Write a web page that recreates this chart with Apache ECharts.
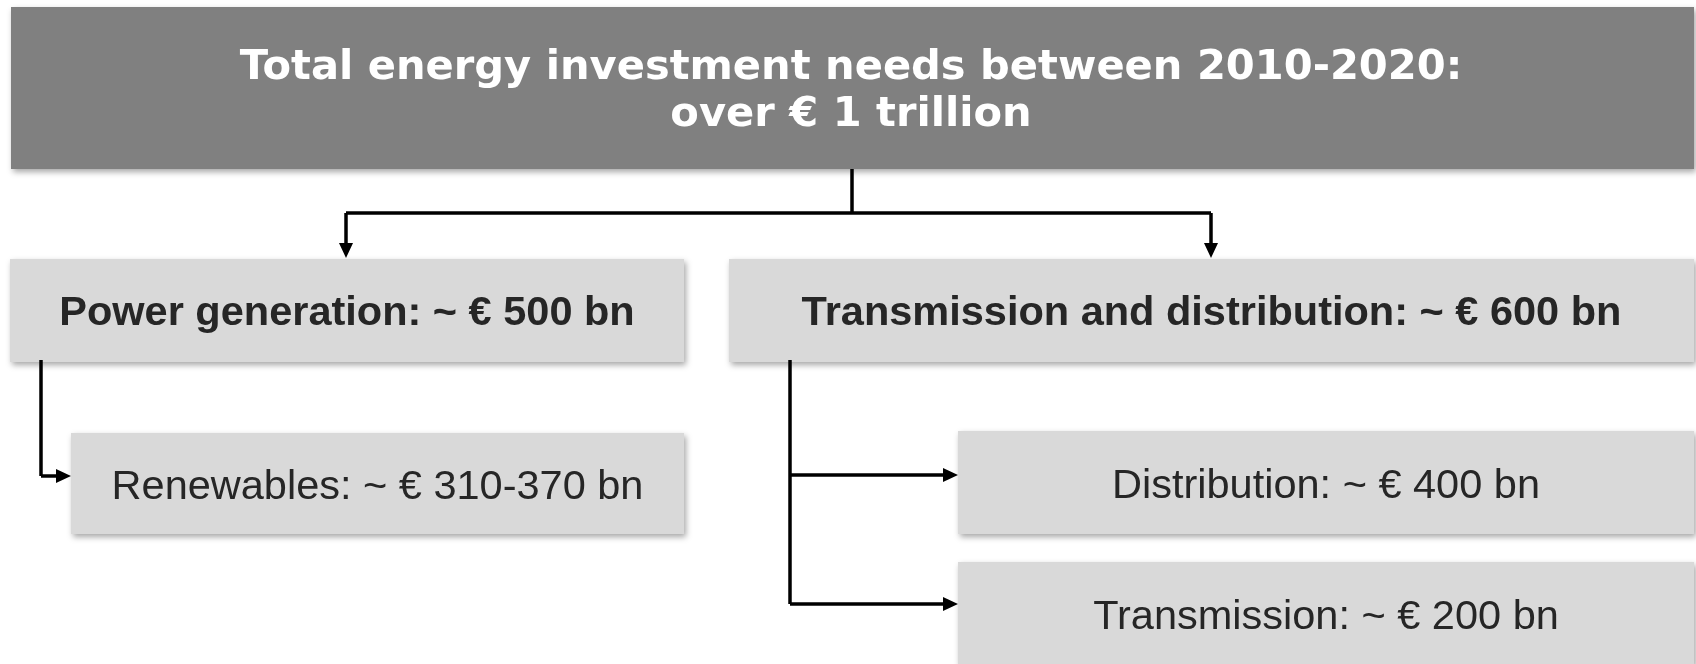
<!DOCTYPE html>
<html>
<head>
<meta charset="utf-8">
<script src="https://cdn.jsdelivr.net/npm/echarts@6/dist/echarts.min.js"></script>
<style>
  html, body { margin: 0; padding: 0; background: #ffffff; }
  #chart { width: 1696px; height: 664px; }
</style>
</head>
<body>
<div id="chart"></div>
<script>
// ---- Diagram content ----
const rootLines = ['Total energy investment needs between 2010-2020:', 'over € 1 trillion'];
const level1Labels = ['Power generation: ~ € 500 bn', 'Transmission and distribution: ~ € 600 bn'];
const level2Labels = ['Renewables: ~ € 310-370 bn', 'Distribution: ~ € 400 bn', 'Transmission: ~ € 200 bn'];
const level2Parents = [0, 1, 1];

// ---- Layout (positions / styles) ----
const rootBox = { x: 11, y: 7, w: 1683, h: 162 };
const level1Boxes = [
  { x: 10, y: 259, w: 674, h: 103 },
  { x: 729, y: 259, w: 965, h: 103 }
];
const level2Boxes = [
  { x: 71, y: 433, w: 613, h: 101 },
  { x: 958, y: 431, w: 736, h: 103 },
  { x: 958, y: 562, w: 736, h: 103 }
];
const busY = 213;
const trunkX = [41, 790];
const LINE_W = 3.5;
const ARROW_L = 15, ARROW_HW = 7;
const TEXT_DY = 4;
const shadow = { shadowBlur: 6, shadowOffsetX: 2, shadowOffsetY: 3, shadowColor: 'rgba(0,0,0,0.35)' };

const chart = echarts.init(document.getElementById('chart'), null, { renderer: 'canvas' });
const els = [];

function box(b, fill) {
  els.push({ type: 'rect', shape: { x: b.x, y: b.y, width: b.w, height: b.h },
    style: Object.assign({ fill: fill }, shadow), z: 1 });
}
function text(str, cx, cy, font, color) {
  els.push({ type: 'text', x: cx, y: cy + TEXT_DY, z: 5,
    style: { text: str, font: font, fill: color, align: 'center', verticalAlign: 'middle' } });
}
function line(points) {
  els.push({ type: 'polyline', shape: { points: points }, z: 3,
    style: { stroke: '#000', lineWidth: LINE_W, fill: null, lineJoin: 'miter', lineCap: 'butt' } });
}
function arrowDown(x, y) {
  els.push({ type: 'polygon', z: 3, shape: { points: [[x - ARROW_HW, y - ARROW_L], [x + ARROW_HW, y - ARROW_L], [x, y]] },
    style: { fill: '#000' } });
}
function arrowRight(x, y) {
  els.push({ type: 'polygon', z: 3, shape: { points: [[x - ARROW_L, y - ARROW_HW], [x - ARROW_L, y + ARROW_HW], [x, y]] },
    style: { fill: '#000' } });
}

// root
box(rootBox, '#808080');
text(rootLines[0], 851, 64, 'bold 41.6px "DejaVu Sans"', '#ffffff');
text(rootLines[1], 851, 111, 'bold 41.6px "DejaVu Sans"', '#ffffff');

// connectors root -> level1
const rootJoinX = 852;
const l1Centers = level1Boxes.map(b => Math.round(b.x + b.w / 2) - 1);
line([[rootJoinX, rootBox.y + rootBox.h], [rootJoinX, busY]]);
line([[l1Centers[0], busY], [l1Centers[1], busY]]);
l1Centers.forEach(cx => {
  line([[cx, busY], [cx, level1Boxes[0].y - ARROW_L + 1]]);
  arrowDown(cx, level1Boxes[0].y - 1);
});

// level1 boxes
level1Boxes.forEach((b, i) => {
  box(b, '#d9d9d9');
  text(level1Labels[i], b.x + b.w / 2, 310, 'bold 41.5px "Liberation Sans", Arial', '#262626');
});

// level2 boxes and connectors
const arrowYs = [476, 475, 604];
level1Boxes.forEach((pb, pi) => {
  const kids = level2Parents.map((p, k) => p === pi ? k : -1).filter(k => k >= 0);
  const tx = trunkX[pi];
  const lastY = Math.max.apply(null, kids.map(k => arrowYs[k]));
  line([[tx, pb.y + pb.h - 2], [tx, lastY]]);
  kids.forEach(k => {
    const b = level2Boxes[k];
    line([[tx, arrowYs[k]], [b.x - ARROW_L + 1, arrowYs[k]]]);
    arrowRight(b.x, arrowYs[k]);
  });
});
level2Boxes.forEach((b, i) => {
  box(b, '#d9d9d9');
  text(level2Labels[i], b.x + b.w / 2, b.y + b.h / 2, '41.5px "Liberation Sans", Arial', '#262626');
});

chart.setOption({
  backgroundColor: '#ffffff',
  animation: false,
  graphic: { elements: els }
});
</script>
</body>
</html>
